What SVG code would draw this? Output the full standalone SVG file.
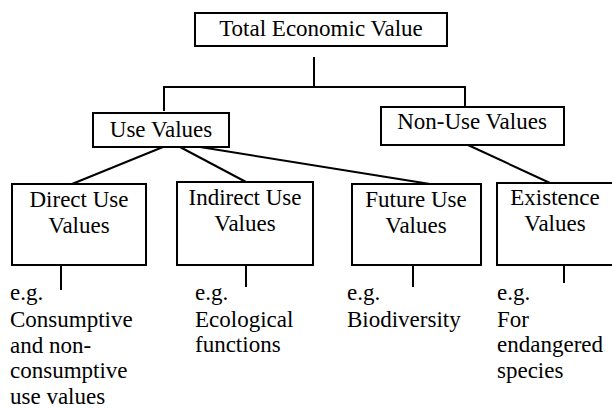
<svg xmlns="http://www.w3.org/2000/svg" width="612" height="408" viewBox="0 0 612 408">
  <style>
    .box { fill: #fff; stroke: #000; stroke-width: 2; }
    .conn { fill: none; stroke: #000; stroke-width: 2; }
    text { font-family: "Liberation Serif", "Times New Roman", serif; font-size: 23px; fill: #000; }
    .c { text-anchor: middle; }
  </style>
  <rect width="612" height="408" fill="#fff"/>

  <g id="connectors">
    <polyline class="conn" points="314,57 314,87"/>
    <polyline class="conn" points="164,111 164,87 465,87 465,107"/>
    <line class="conn" x1="163" y1="147" x2="72" y2="184"/>
    <line class="conn" x1="180" y1="147" x2="246" y2="182"/>
    <line class="conn" x1="200" y1="147" x2="430" y2="184"/>
    <line class="conn" x1="468" y1="145" x2="550" y2="183"/>
    <line class="conn" x1="61" y1="265" x2="61" y2="290"/>
    <line class="conn" x1="246" y1="265" x2="246" y2="287"/>
    <line class="conn" x1="413" y1="265" x2="413" y2="287"/>
    <line class="conn" x1="564" y1="265" x2="564" y2="283"/>
  </g>

  <g id="total-economic-value">
    <rect class="box" x="195" y="13" width="252" height="33"/>
    <text class="c" x="321" y="36">Total Economic Value</text>
  </g>

  <g id="use-values">
    <rect class="box" x="93" y="113" width="136" height="34"/>
    <text class="c" x="161" y="137">Use Values</text>
  </g>

  <g id="non-use-values">
    <rect class="box" x="381" y="107" width="183" height="38"/>
    <text class="c" x="472" y="129">Non-Use Values</text>
  </g>

  <g id="direct-use-values">
    <rect class="box" x="12" y="184" width="134" height="81"/>
    <text class="c" x="79" y="207">Direct Use</text>
    <text class="c" x="79" y="233">Values</text>
  </g>

  <g id="indirect-use-values">
    <rect class="box" x="177" y="182" width="136" height="83"/>
    <text class="c" x="245" y="205">Indirect Use</text>
    <text class="c" x="245" y="231">Values</text>
  </g>

  <g id="future-use-values">
    <rect class="box" x="352" y="184" width="129" height="81"/>
    <text class="c" x="416" y="207">Future Use</text>
    <text class="c" x="416" y="233">Values</text>
  </g>

  <g id="existence-values">
    <rect class="box" x="497" y="183" width="117" height="82"/>
    <text class="c" x="555" y="205">Existence</text>
    <text class="c" x="555" y="231">Values</text>
  </g>

  <g id="example-direct">
    <text x="10" y="300">e.g.</text>
    <text x="10" y="327">Consumptive</text>
    <text x="10" y="353">and non-</text>
    <text x="10" y="378">consumptive</text>
    <text x="10" y="404">use values</text>
  </g>

  <g id="example-indirect">
    <text x="195" y="300">e.g.</text>
    <text x="195" y="327">Ecological</text>
    <text x="195" y="352">functions</text>
  </g>

  <g id="example-future">
    <text x="347" y="300">e.g.</text>
    <text x="347" y="327">Biodiversity</text>
  </g>

  <g id="example-existence">
    <text x="497" y="300">e.g.</text>
    <text x="497" y="327">For</text>
    <text x="497" y="352">endangered</text>
    <text x="497" y="378">species</text>
  </g>
</svg>
